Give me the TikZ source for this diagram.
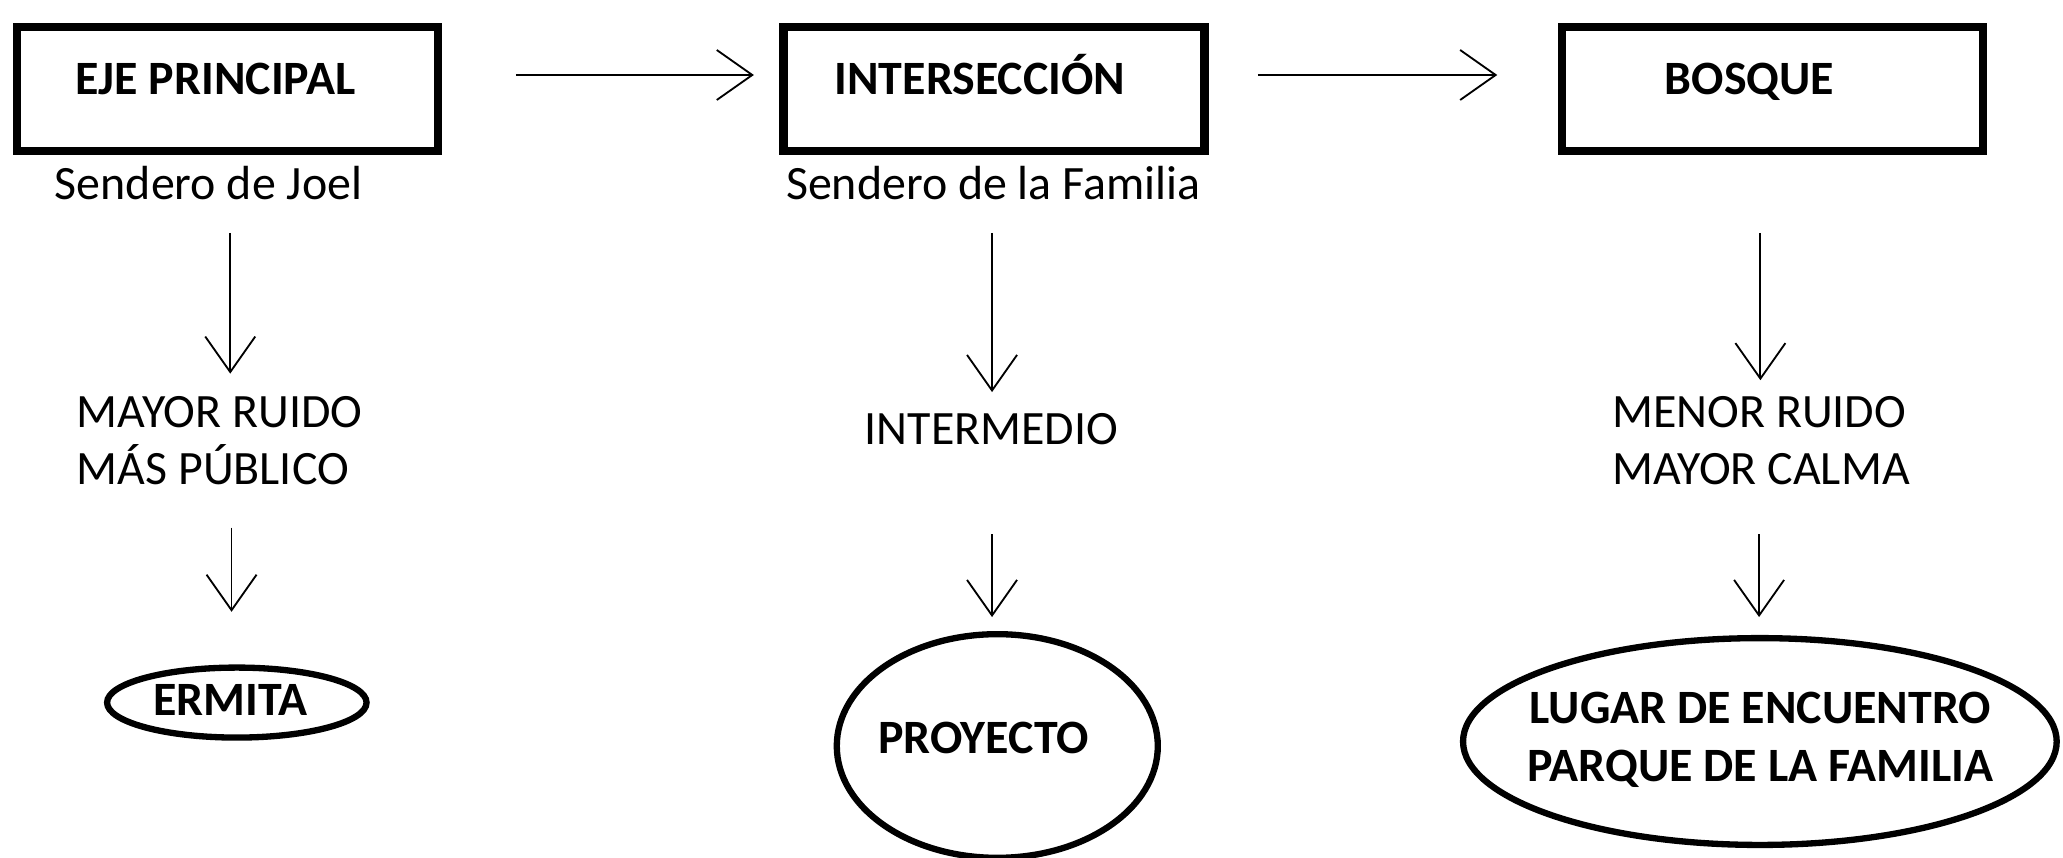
\documentclass[tikz,border=0pt]{standalone}
\usepackage{fontspec}
\setmainfont{Carlito}
\usetikzlibrary{shapes.geometric, arrows.meta, positioning}

\tikzset{
  caja/.style={draw, line width=3.1pt, minimum width=160pt, minimum height=47.3pt, inner sep=0pt},
  ovalo/.style={draw, ellipse, line width=2.4pt, inner sep=0pt},
  titulo/.style={font=\fontsize{18.2}{22}\selectfont\bfseries, inner sep=0pt},
  texto/.style={font=\fontsize{18.2}{22}\selectfont, inner sep=0pt},
  flecha/.style={line width=0.7pt, -{Straight Barb[length=13.5pt, width=19pt]}}
}

\begin{document}
\begin{tikzpicture}[x=0.5pt, y=-0.5pt]
\useasboundingbox (0,0) rectangle (1568,652);
\node[caja] (eje) at (172.9,67.6) {};
\node[caja] (inter) at (755.5,67.6) {};
\node[caja] (bosque) at (1347,67.6) {};
\node[titulo, anchor=base] (ejetxt) at (163.7,72.2) {EJE PRINCIPAL};
\node[titulo, anchor=base] (intertxt) at (744.8,72.2) {INTERSECCIÓN};
\node[titulo, anchor=base west] (bosquetxt) at (1265,72.2) {BOSQUE};
\node[texto, anchor=base] (joel) at (158.5,152) {Sendero de Joel};
\node[texto, anchor=base] (familia) at (755,152) {Sendero de la Familia};
\node[texto, anchor=base west, align=left] (ruido) at (58,368.6) {MAYOR RUIDO\\MÁS PÚBLICO};
\node[texto, anchor=base] (medio) at (753.5,338) {INTERMEDIO};
\node[texto, anchor=base west, align=left] (calma) at (1225,368.6) {MENOR RUIDO\\MAYOR CALMA};
\node[ovalo, minimum width=98.6pt, minimum height=26.6pt] (ermita) at (180,534) {};
\node[ovalo, minimum width=122pt, minimum height=85pt] (proyecto) at (758,567) {};
\node[ovalo, minimum width=225.6pt, minimum height=78.6pt] (lugar) at (1337.6,563.6) {};
\node[titulo, anchor=base] (ermitatxt) at (175,544) {ERMITA};
\node[titulo, anchor=base] (proyectotxt) at (747.5,572.5) {PROYECTO};
\node[titulo, anchor=base, align=center] (lugartxt) at (1338,594) {LUGAR DE ENCUENTRO\\PARQUE DE LA FAMILIA};
\coordinate (h1a) at (392,57);
\coordinate (h1b) at (573,57);
\coordinate (h2a) at (956,57);
\coordinate (h2b) at (1138,57);
\coordinate (v1a) at (175,177);
\coordinate (v1b) at (175,284);
\coordinate (v1c) at (176,401);
\coordinate (v1d) at (176,465);
\coordinate (v2a) at (754,177);
\coordinate (v2b) at (754,298);
\coordinate (v2c) at (754,406);
\coordinate (v2d) at (754,469);
\coordinate (v3a) at (1338,177);
\coordinate (v3b) at (1338,289);
\coordinate (v3c) at (1337,406);
\coordinate (v3d) at (1337,469);
\draw[flecha] (h1a) -- (h1b);
\draw[flecha] (h2a) -- (h2b);
\draw[flecha] (v1a) -- (v1b);
\draw[flecha] (v1c) -- (v1d);
\draw[flecha] (v2a) -- (v2b);
\draw[flecha] (v2c) -- (v2d);
\draw[flecha] (v3a) -- (v3b);
\draw[flecha] (v3c) -- (v3d);
\end{tikzpicture}
\end{document}
